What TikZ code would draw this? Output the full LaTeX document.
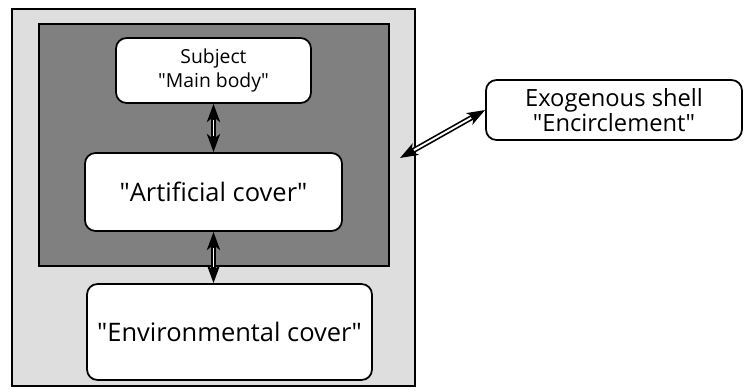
\documentclass[tikz,border=0pt]{standalone}
\usepackage{fontspec}
\setmainfont{Open Sans}
\usetikzlibrary{arrows.meta}
\newcommand{\q}{\textquotedbl}

\begin{document}
\begin{tikzpicture}[x=0.02cm, y=-0.02cm, >={Stealth[length=3.6mm, width=2.6mm, inset=1mm]},
	box/.style={draw, line width=1pt, rounded corners=6pt, fill=white, align=center, inner sep=0pt},
	link/.style={<->, line width=3pt},
	core/.style={white, line width=1.1pt, shorten <=3.2mm, shorten >=3.2mm}]
	\useasboundingbox (0,0) rectangle (751,392);
	% shells
	\node[draw, line width=1pt, fill=black!13, minimum width=403*0.02cm, minimum height=377*0.02cm, inner sep=0pt, anchor=north west] (outer) at (11,8) {};
	\node[draw, line width=1pt, fill=black!50, minimum width=350*0.02cm, minimum height=242*0.02cm, inner sep=0pt, anchor=north west] (inner) at (38,23) {};
	% boxes
	\node[box, minimum width=195*0.02cm, minimum height=65*0.02cm, font=\fontsize{11}{14}\selectfont] (subj) at (213.5,70.5) {Subject\\\q Main body\q};
	\node[box, minimum width=257*0.02cm, minimum height=78*0.02cm, font=\fontsize{14.5}{17}\selectfont] (art) at (213.5,192) {\q Artificial cover\q};
	\node[box, minimum width=285*0.02cm, minimum height=96*0.02cm, font=\fontsize{14.5}{17}\selectfont] (env) at (229.5,332) {\q Environmental cover\q};
	\node[box, minimum width=256*0.02cm, minimum height=60*0.02cm, font=\fontsize{13.5}{14}\selectfont] (exo) at (614,110) {Exogenous shell\\\q Encirclement\q};
	% links
	\draw[link] (subj.south) -- (art.north);
	\draw[core] (subj.south) -- (art.north);
	\draw[link] (art.south) -- (art.south |- env.north);
	\draw[core] (art.south) -- (art.south |- env.north);
	\coordinate (shell) at (400,158);
	\draw[link] (shell) -- (exo.west);
	\draw[core] (shell) -- (exo.west);
\end{tikzpicture}
\end{document}
